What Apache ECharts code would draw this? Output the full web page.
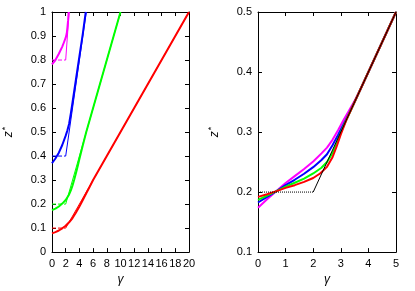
<!DOCTYPE html>
<html>
<head>
<meta charset="utf-8">
<script src="https://cdn.jsdelivr.net/npm/echarts@6/dist/echarts.min.js"></script>
<style>
html,body{margin:0;padding:0;background:#fff;}
#chart{width:415px;height:291px;}
</style>
</head>
<body>
<div id="chart"></div>
<script>
// ---------- Left panel data (gamma, z*) ----------
const leftXTicks = [0, 2, 4, 6, 8, 10, 12, 14, 16, 18, 20];
const leftYTicks = [0, 0.1, 0.2, 0.3, 0.4, 0.5, 0.6, 0.7, 0.8, 0.9, 1];
const leftRed = [[0,0.078],[0.5,0.083],[1,0.09],[1.5,0.099],[2,0.11],[2.5,0.124],[3,0.142],[3.5,0.165],[4,0.19],[4.5,0.217],[5,0.245],[5.5,0.272],[6,0.3],[20,1.0]];
const leftGreen = [[0,0.175],[0.5,0.181],[1,0.19],[1.5,0.202],[2,0.217],[2.5,0.24],[2.75,0.257],[3,0.278],[3.25,0.302],[3.5,0.329],[3.75,0.358],[4,0.388],[4.5,0.445],[5,0.5],[10,1.0]];
const leftBlue = [[0,0.37],[0.5,0.39],[1,0.414],[1.5,0.446],[2,0.485],[2.25,0.507],[2.5,0.535],[2.75,0.578],[3,0.625],[3.5,0.72],[4,0.815],[4.5,0.91],[4.93,1.0]];
const leftMagenta = [[0,0.782],[0.5,0.8],[1,0.826],[1.5,0.856],[1.75,0.874],[2,0.893],[2.15,0.91],[2.25,0.935],[2.35,0.965],[2.43,1.0]];
// kinked reference lines: flat (dashed) then slope (thin solid)
const leftRedFlat = [[0,0.1],[2,0.1]];
const leftRedSlope = [[2,0.1],[20,1.0]];
const leftGreenFlat = [[0,0.2],[2,0.2]];
const leftGreenSlope = [[2,0.2],[10,1.0]];
const leftBlueFlat = [[0,0.4],[2,0.4]];
const leftBlueSlope = [[2,0.4],[5,1.0]];
const leftMagentaFlat = [[0,0.8],[2,0.8]];
const leftMagentaSlope = [[2,0.8],[2.5,1.0]];

// ---------- Right panel data ----------
const rightXTicks = [0, 1, 2, 3, 4, 5];
const rightYTicks = [0.1, 0.2, 0.3, 0.4, 0.5];
const rightRed = [[0,0.192],[0.33,0.1965],[0.67,0.2016],[1,0.207],[1.33,0.2115],[1.67,0.217],[2,0.2235],[2.25,0.231],[2.5,0.242],[2.7,0.258],[2.85,0.276],[3,0.296],[3.2,0.32],[3.5,0.35],[5,0.5]];
const rightGreen = [[0,0.187],[0.33,0.194],[0.67,0.2016],[1,0.209],[1.33,0.2155],[1.67,0.2225],[2,0.231],[2.3,0.2405],[2.5,0.25],[2.7,0.265],[2.9,0.288],[3.1,0.31],[3.5,0.35],[5,0.5]];
const rightBlue = [[0,0.1826],[0.33,0.192],[0.67,0.2016],[1,0.2115],[1.33,0.2205],[1.67,0.2305],[2,0.2415],[2.3,0.2535],[2.5,0.263],[2.7,0.278],[2.9,0.295],[3.1,0.313],[3.3,0.331],[3.5,0.35],[5,0.5]];
const rightMagenta = [[0,0.174],[0.33,0.188],[0.67,0.2016],[1,0.215],[1.33,0.2265],[1.67,0.2385],[2,0.251],[2.3,0.2645],[2.5,0.274],[2.7,0.287],[2.9,0.303],[3.1,0.32],[3.3,0.336],[3.5,0.352],[3.7,0.37],[4,0.4],[5,0.5]];
const rightFlat = [[0,0.2],[2,0.2]];
const rightSlope = [[2,0.2],[5,0.5]];

const RED = '#ff0000', GREEN = '#00ff00', BLUE = '#0000ff', MAG = '#ff00ff', BLACK = '#000000';
const FONT = 'Liberation Sans, Arial, sans-serif';

function axisBase(ticks, showLabels, pos, gridIndex, extra) {
  const o = {
    type: 'value', gridIndex: gridIndex, position: pos,
    min: ticks[0], max: ticks[ticks.length - 1], interval: ticks[1] - ticks[0],
    axisLine: { show: true, onZero: false, lineStyle: { color: BLACK, width: 1 } },
    axisTick: { show: true, inside: true, length: 4, lineStyle: { color: BLACK, width: 1 } },
    splitLine: { show: false },
    axisLabel: { show: showLabels, color: BLACK, fontSize: 11, fontFamily: FONT, margin: 6, showMinLabel: true, showMaxLabel: true }
  };
  return Object.assign(o, extra || {});
}

const nameStyleX = { fontStyle: 'italic', fontSize: 12, color: BLACK, fontFamily: FONT };
const nameStyleY = {
  color: BLACK, fontFamily: FONT, fontSize: 12,
  rich: { z: { fontStyle: 'italic', fontSize: 12, fontFamily: FONT }, s: { fontSize: 9, fontFamily: FONT, verticalAlign: 'top', padding: [0, 0, 6, 1] } }
};

function thick(data, color, xi, yi) {
  return { type: 'line', data: data, xAxisIndex: xi, yAxisIndex: yi, showSymbol: false, symbol: 'none', smooth: false,
    lineStyle: { color: color, width: 2, join: 'round' }, clip: true, silent: true, z: 3 };
}
function thin(data, color, xi, yi, type, width, z) {
  return { type: 'line', data: data, xAxisIndex: xi, yAxisIndex: yi, showSymbol: false, symbol: 'none',
    lineStyle: { color: color, width: width || 1, type: type || 'solid' }, clip: true, silent: true, z: z || 2 };
}

const chart = echarts.init(document.getElementById('chart'), null, { renderer: 'canvas' });
chart.setOption({
  animation: false,
  backgroundColor: '#ffffff',
  grid: [
    { left: 51, top: 12, width: 138, height: 245 },
    { left: 258, top: 12, width: 138, height: 245 }
  ],
  xAxis: [
    axisBase(leftXTicks, true, 'bottom', 0, { name: 'γ', nameLocation: 'middle', nameGap: 18, nameTextStyle: nameStyleX }),
    axisBase(leftXTicks, false, 'top', 0),
    axisBase(rightXTicks, true, 'bottom', 1, { name: 'γ', nameLocation: 'middle', nameGap: 18, nameTextStyle: nameStyleX }),
    axisBase(rightXTicks, false, 'top', 1)
  ],
  yAxis: [
    axisBase(leftYTicks, true, 'left', 0, { name: '{z|z}{s|*}', nameLocation: 'middle', nameRotate: 90, nameGap: 36, nameTextStyle: nameStyleY }),
    axisBase(leftYTicks, false, 'right', 0),
    axisBase(rightYTicks, true, 'left', 1, { name: '{z|z}{s|*}', nameLocation: 'middle', nameRotate: 90, nameGap: 36, nameTextStyle: nameStyleY }),
    axisBase(rightYTicks, false, 'right', 1)
  ],
  series: [
    thin(leftRedFlat, RED, 0, 0, 'dashed'),
    thin(leftRedSlope, RED, 0, 0),
    thin(leftGreenFlat, GREEN, 0, 0, 'dashed'),
    thin(leftGreenSlope, GREEN, 0, 0),
    thin(leftBlueFlat, BLUE, 0, 0, 'dashed'),
    thin(leftBlueSlope, BLUE, 0, 0),
    thin(leftMagentaFlat, MAG, 0, 0, 'dashed'),
    thin(leftMagentaSlope, MAG, 0, 0),
    thick(leftMagenta, MAG, 0, 0),
    thick(leftBlue, BLUE, 0, 0),
    thick(leftGreen, GREEN, 0, 0),
    thick(leftRed, RED, 0, 0),

    thick(rightMagenta, MAG, 2, 2),
    thick(rightBlue, BLUE, 2, 2),
    thick(rightGreen, GREEN, 2, 2),
    thick(rightRed, RED, 2, 2),
    thin(rightFlat, BLACK, 2, 2, 'dotted', 1, 4),
    thin(rightSlope, BLACK, 2, 2, 'solid', 1, 4)
  ]
});
</script>
</body>
</html>
